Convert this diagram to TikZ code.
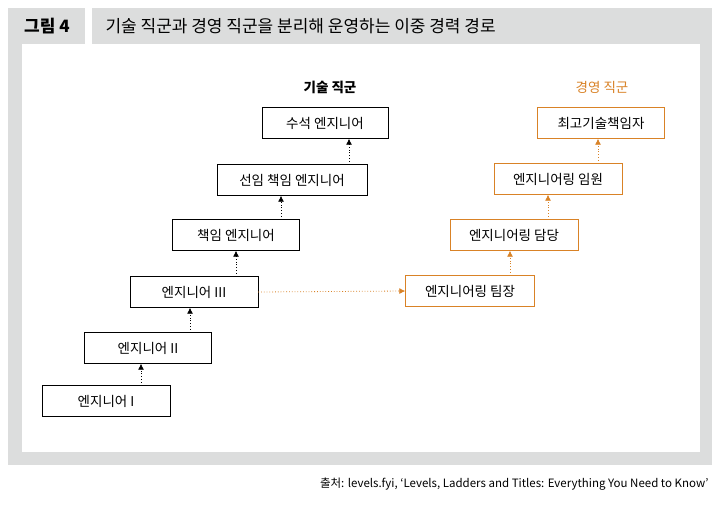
\documentclass[tikz,border=0pt]{standalone}
\usepackage{fontspec}
\setmainfont{Noto Sans CJK KR}
\usetikzlibrary{arrows.meta}
\definecolor{mgmt}{HTML}{D98226}
\definecolor{framegray}{HTML}{DCDDDD}
\tikzset{
  rung/.style={draw=black, fill=white, minimum height=31pt, font=\fontsize{13.5}{15}\selectfont, inner sep=2pt},
  mrung/.style={rung, draw=mgmt},
  up/.style={dotted, thick, -{Latex[length=6pt,width=6pt]}},
}
\begin{document}
\begin{tikzpicture}[x=1pt,y=-1pt]
            \useasboundingbox (0,0) rectangle (720,509);
            \fill[framegray] (8,8) rectangle (85,44);
            \fill[framegray] (92,8) rectangle (712,44);
            \fill[framegray] (8,44) rectangle (712,465);
            \fill[white] (22,44) rectangle (700,452);
            \node[font=\fontsize{17}{19}\selectfont\bfseries] (fig) at (47,26) {그림 4};
            \node[font=\fontsize{17}{19}\selectfont, anchor=west] (title) at (102,26) {기술 직군과 경영 직군을 분리해 운영하는 이중 경력 경로};

            \node[font=\fontsize{13.5}{15}\selectfont\bfseries] (tech) at (330,87) {기술 직군};
            \node[font=\fontsize{13.5}{15}\selectfont, text=mgmt] (mgr) at (602,87) {경영 직군};

            \node[rung, minimum width=128pt] (e1) at (106,401) {엔지니어 I};
            \node[rung, minimum width=127pt] (e2) at (148,348) {엔지니어 II};
            \node[rung, minimum width=128pt] (e3) at (194,292) {엔지니어 III};
            \node[rung, minimum width=127pt] (e4) at (236,235) {책임 엔지니어};
            \node[rung, minimum width=150pt] (e5) at (292,180) {선임 책임 엔지니어};
            \node[rung, minimum width=126pt] (e6) at (325,123) {수석 엔지니어};

            \node[mrung, minimum width=129pt] (m1) at (470,291) {엔지니어링 팀장};
            \node[mrung, minimum width=128pt] (m2) at (514,235) {엔지니어링 담당};
            \node[mrung, minimum width=128pt] (m3) at (558,179) {엔지니어링 임원};
            \node[mrung, minimum width=127pt] (m4) at (601,123) {최고기술책임자};

            \draw[up] (e1.north -| 141,0) -- (e2.south -| 141,0);
            \draw[up] (e2.north -| 190,0) -- (e3.south -| 190,0);
            \draw[up] (e3.north -| 236,0) -- (e4.south -| 236,0);
            \draw[up] (e4.north -| 281,0) -- (e5.south -| 281,0);
            \draw[up] (e5.north -| 349,0) -- (e6.south -| 349,0);
            \draw[up, mgmt] (m1.north -| 510,0) -- (m2.south -| 510,0);
            \draw[up, mgmt] (m2.north -| 548,0) -- (m3.south -| 548,0);
            \draw[up, mgmt] (m3.north -| 598,0) -- (m4.south -| 598,0);
            \draw[up, mgmt] (e3.east) -- (m1.west);

            \node[font=\fontsize{11.5}{13}\selectfont, anchor=east] (src) at (712,484) {출처: levels.fyi, ‘Levels, Ladders and Titles: Everything You Need to Know’};
\end{tikzpicture}
\end{document}
